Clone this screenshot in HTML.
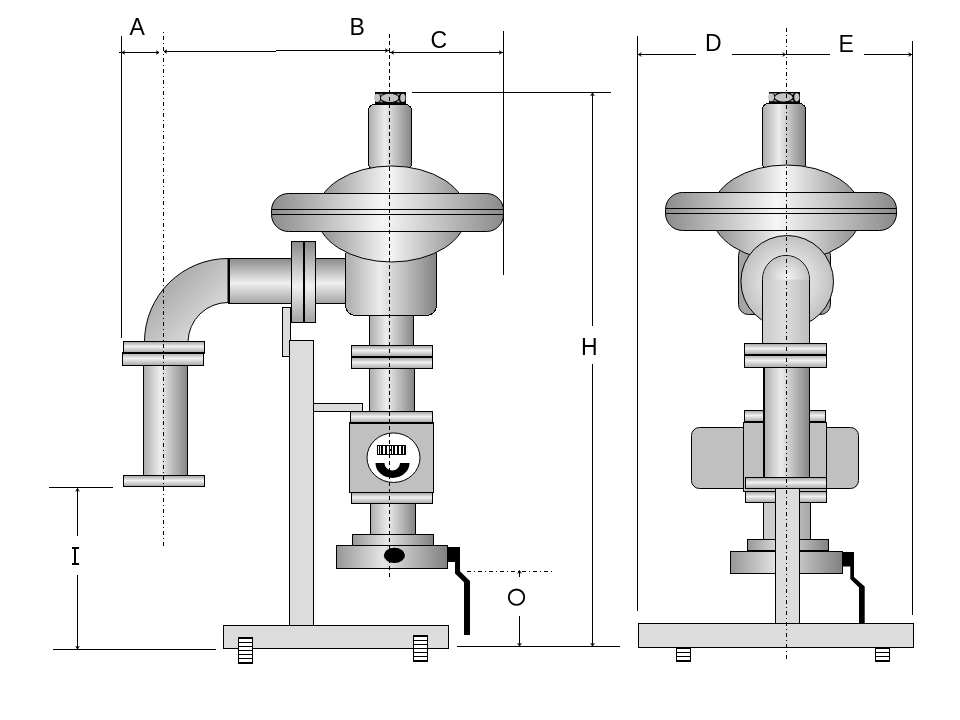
<!DOCTYPE html>
<html><head><meta charset="utf-8"><title>Dimensions</title>
<style>
html,body{margin:0;padding:0;background:#fff;}
body{width:960px;height:720px;overflow:hidden;font-family:"Liberation Sans",sans-serif;}
svg{display:block;}
text{font-family:"Liberation Sans",sans-serif;fill:#000;}
</style></head><body>
<svg width="960" height="720" viewBox="0 0 960 720" shape-rendering="crispEdges">
<defs>
<linearGradient id="cyl" x1="0" x2="1" y1="0" y2="0">
<stop offset="0" stop-color="#acacac"/><stop offset="0.38" stop-color="#ececec"/><stop offset="1" stop-color="#848484"/>
</linearGradient>
<linearGradient id="wide" x1="0" x2="1" y1="0" y2="0">
<stop offset="0" stop-color="#8c8c8c"/><stop offset="0.48" stop-color="#f6f6f6"/><stop offset="1" stop-color="#8a8a8a"/>
</linearGradient>
<linearGradient id="dark" x1="0" x2="1" y1="0" y2="0">
<stop offset="0" stop-color="#969696"/><stop offset="0.42" stop-color="#e6e6e6"/><stop offset="1" stop-color="#808080"/>
</linearGradient>
<linearGradient id="hpipe" x1="0" x2="0" y1="0" y2="1">
<stop offset="0" stop-color="#8a8a8a"/><stop offset="0.55" stop-color="#f0f0f0"/><stop offset="1" stop-color="#a2a2a2"/>
</linearGradient>
<linearGradient id="hfl" x1="0" x2="0" y1="0" y2="1">
<stop offset="0" stop-color="#a0a0a0"/><stop offset="0.45" stop-color="#f2f2f2"/><stop offset="1" stop-color="#a8a8a8"/>
</linearGradient>
<linearGradient id="elbow" gradientUnits="userSpaceOnUse" x1="158" y1="286" x2="203" y2="331">
<stop offset="0" stop-color="#a8a8a8"/><stop offset="1" stop-color="#dadada"/>
</linearGradient>
<radialGradient id="ring" cx="0.5" cy="0.5" r="0.5">
<stop offset="0" stop-color="#e8e8e8"/><stop offset="0.6" stop-color="#dadada"/><stop offset="1" stop-color="#c0c0c0"/>
</radialGradient>
<radialGradient id="cap" gradientUnits="userSpaceOnUse" cx="787" cy="278" r="26">
<stop offset="0" stop-color="#f4f4f4"/><stop offset="1" stop-color="#bcbcbc"/>
</radialGradient>
<linearGradient id="soft" x1="0" x2="1" y1="0" y2="0">
<stop offset="0" stop-color="#cacaca"/><stop offset="0.45" stop-color="#dedede"/><stop offset="1" stop-color="#bcbcbc"/>
</linearGradient>
<linearGradient id="half" x1="0" x2="1" y1="0" y2="0">
<stop offset="0" stop-color="#cccccc"/><stop offset="0.55" stop-color="#cccccc"/><stop offset="1" stop-color="#a6a6a6"/>
</linearGradient>
<filter id="gray" x="0" y="0" width="960" height="720" filterUnits="userSpaceOnUse" color-interpolation-filters="sRGB"><feColorMatrix type="saturate" values="0"/></filter>
</defs>
<rect width="960" height="720" fill="#fff"/>

<rect x="282.50" y="307.50" width="8.00" height="49.00" fill="#dcdcdc" stroke="#000" stroke-width="1" />
<rect x="289.50" y="340.50" width="24.00" height="285.00" fill="#dcdcdc" stroke="#000" stroke-width="1" />
<rect x="313.50" y="403.50" width="49.00" height="8.00" fill="#dcdcdc" stroke="#000" stroke-width="1" />
<rect x="223.50" y="625.50" width="225.00" height="23.00" fill="#dcdcdc" stroke="#000" stroke-width="1" />
<path d="M144.5,341.5 A83.5,83.5 0 0 1 228,258.5 L228,302.5 A40,40 0 0 0 188,341.5 Z" fill="url(#elbow)" stroke="#000" stroke-width="1" shape-rendering="auto"/>
<rect x="228.50" y="258.50" width="63.00" height="45.00" fill="url(#hpipe)" stroke="#000" stroke-width="1" />
<line x1="229.5" y1="259" x2="229.5" y2="303" stroke="#000" stroke-width="1" />
<rect x="315.50" y="258.50" width="30.00" height="45.00" fill="url(#hpipe)" stroke="#000" stroke-width="1" />
<rect x="291.50" y="241.50" width="12.00" height="81.00" fill="url(#hpipe)" stroke="#000" stroke-width="1" />
<rect x="304.50" y="241.50" width="11.00" height="81.00" fill="url(#hpipe)" stroke="#000" stroke-width="1" />
<line x1="304" y1="241" x2="304" y2="323" stroke="#000" stroke-width="1.5" />
<rect x="143.50" y="365.50" width="44.00" height="110.00" fill="url(#cyl)" stroke="#000" stroke-width="1" />
<rect x="123.50" y="341.50" width="81.00" height="11.00" fill="url(#hfl)" stroke="#000" stroke-width="1" />
<rect x="122.50" y="352.50" width="81.00" height="13.00" fill="url(#hfl)" stroke="#000" stroke-width="1" />
<line x1="122.5" y1="352.75" x2="205" y2="352.75" stroke="#000" stroke-width="1.5" />
<rect x="123.50" y="475.50" width="81.00" height="11.00" fill="url(#hfl)" stroke="#000" stroke-width="1" />
<rect x="368.50" y="104.50" width="43.00" height="65.00" fill="url(#cyl)" stroke="#000" stroke-width="1" rx="6" />
<rect x="375.00" y="92.00" width="31.00" height="12.70" fill="#000" stroke="none" stroke-width="0" />
<ellipse cx="389.7" cy="97.94999999999999" rx="8.8" ry="4.1" fill="#c4c4c4" shape-rendering="auto"/>
<ellipse cx="377.2" cy="97.94999999999999" rx="3" ry="4.1" fill="#c4c4c4" shape-rendering="auto"/>
<ellipse cx="402.8" cy="97.94999999999999" rx="2.6" ry="4.1" fill="#c4c4c4" shape-rendering="auto"/>
<path d="M379.09999999999997,93.74999999999999 h4 l-2,2.2 z M379.09999999999997,102.14999999999999 h4 l-2,-2.2 z" fill="#909090" shape-rendering="auto"/>
<path d="M396.3,93.74999999999999 h4 l-2,2.2 z M396.3,102.14999999999999 h4 l-2,-2.2 z" fill="#909090" shape-rendering="auto"/>
<rect x="345.50" y="245.50" width="91.00" height="70.00" fill="url(#cyl)" stroke="#000" stroke-width="1" rx="10" />
<ellipse cx="391.5" cy="214" rx="75" ry="48" fill="url(#wide)" stroke="#000" shape-rendering="auto"/>
<rect x="271.50" y="193.50" width="232.00" height="38.00" fill="url(#wide)" stroke="#000" stroke-width="1" rx="17" shape-rendering="auto"/>
<line x1="271.5" y1="209.5" x2="503" y2="209.5" stroke="#000" stroke-width="1" />
<line x1="271.5" y1="214.5" x2="503" y2="214.5" stroke="#000" stroke-width="1" />
<rect x="369.50" y="315.50" width="44.00" height="30.00" fill="url(#cyl)" stroke="#000" stroke-width="1" />
<rect x="351.50" y="345.50" width="81.00" height="11.00" fill="url(#hfl)" stroke="#000" stroke-width="1" />
<rect x="351.50" y="357.50" width="81.00" height="11.00" fill="url(#hfl)" stroke="#000" stroke-width="1" />
<line x1="351" y1="357" x2="433" y2="357" stroke="#000" stroke-width="2" />
<rect x="369.50" y="368.50" width="45.00" height="43.00" fill="url(#cyl)" stroke="#000" stroke-width="1" />
<rect x="350.50" y="411.50" width="82.00" height="11.00" fill="url(#hfl)" stroke="#000" stroke-width="1" />
<rect x="349.50" y="422.50" width="84.00" height="70.00" fill="#c0c0c0" stroke="#000" stroke-width="1" />
<line x1="350" y1="422.75" x2="433.5" y2="422.75" stroke="#000" stroke-width="1.5" />
<ellipse cx="393.5" cy="457.7" rx="26.5" ry="24.75" fill="#fff" stroke="#000" shape-rendering="auto"/>
<rect x="377.50" y="445.50" width="28.00" height="9.00" fill="#fff" stroke="#000" stroke-width="1" />
<rect x="381.00" y="446.00" width="2.00" height="8.00" fill="#000" stroke="none" stroke-width="0" />
<rect x="385.00" y="446.00" width="2.00" height="8.00" fill="#000" stroke="none" stroke-width="0" />
<rect x="393.00" y="446.00" width="2.00" height="8.00" fill="#000" stroke="none" stroke-width="0" />
<rect x="397.00" y="446.00" width="2.00" height="8.00" fill="#000" stroke="none" stroke-width="0" />
<rect x="401.00" y="446.00" width="2.00" height="8.00" fill="#000" stroke="none" stroke-width="0" />
<rect x="379.00" y="446.00" width="1.00" height="8.00" fill="#000" stroke="none" stroke-width="0" />
<rect x="404.00" y="446.00" width="1.00" height="8.00" fill="#000" stroke="none" stroke-width="0" />
<rect x="389.00" y="446.00" width="1.00" height="8.00" fill="#000" stroke="none" stroke-width="0" />
<rect x="391.00" y="446.00" width="1.00" height="8.00" fill="#000" stroke="none" stroke-width="0" />
<rect x="389.00" y="449.00" width="3.00" height="2.00" fill="#000" stroke="none" stroke-width="0" />
<path d="M375.5,463 L409.5,463 A17,15 0 0 1 375.5,463 Z M384.5,463 A7.75,7.5 0 0 0 400,463 Z" fill="#000" fill-rule="evenodd" shape-rendering="auto"/>
<rect x="351.50" y="492.50" width="81.00" height="11.00" fill="url(#hfl)" stroke="#000" stroke-width="1" />
<rect x="370.50" y="503.50" width="45.00" height="31.00" fill="url(#cyl)" stroke="#000" stroke-width="1" />
<rect x="352.50" y="534.50" width="81.00" height="11.00" fill="url(#dark)" stroke="#000" stroke-width="1" />
<rect x="336.50" y="545.50" width="111.00" height="23.00" fill="url(#dark)" stroke="#000" stroke-width="1" />
<ellipse cx="394.4" cy="555.4" rx="10.6" ry="7.6" fill="#000" shape-rendering="auto"/>
<polygon points="447.5,547 460,547 460,571.3 470,581 470,635 464,635 464,582.3 455,573.5 455,562 447.5,562" fill="#000" shape-rendering="auto"/>
<rect x="238.00" y="637.00" width="15.00" height="27.00" fill="#000" stroke="none" stroke-width="0" />
<rect x="239.00" y="639.00" width="13.00" height="3.00" fill="#fff" stroke="none" stroke-width="0" />
<rect x="239.00" y="643.00" width="13.00" height="3.00" fill="#fff" stroke="none" stroke-width="0" />
<rect x="239.00" y="647.00" width="13.00" height="3.00" fill="#fff" stroke="none" stroke-width="0" />
<rect x="239.00" y="651.00" width="13.00" height="3.00" fill="#fff" stroke="none" stroke-width="0" />
<rect x="239.00" y="655.00" width="13.00" height="3.00" fill="#fff" stroke="none" stroke-width="0" />
<rect x="239.00" y="659.00" width="13.00" height="3.00" fill="#fff" stroke="none" stroke-width="0" />
<rect x="413.00" y="635.00" width="15.00" height="27.00" fill="#000" stroke="none" stroke-width="0" />
<rect x="414.00" y="637.00" width="13.00" height="3.00" fill="#fff" stroke="none" stroke-width="0" />
<rect x="414.00" y="641.00" width="13.00" height="3.00" fill="#fff" stroke="none" stroke-width="0" />
<rect x="414.00" y="645.00" width="13.00" height="3.00" fill="#fff" stroke="none" stroke-width="0" />
<rect x="414.00" y="649.00" width="13.00" height="3.00" fill="#fff" stroke="none" stroke-width="0" />
<rect x="414.00" y="653.00" width="13.00" height="3.00" fill="#fff" stroke="none" stroke-width="0" />
<rect x="414.00" y="657.00" width="13.00" height="3.00" fill="#fff" stroke="none" stroke-width="0" />
<line x1="121.5" y1="36" x2="121.5" y2="338" stroke="#000" stroke-width="1" />
<line x1="163.5" y1="32" x2="163.5" y2="548" stroke="#000" stroke-width="1" stroke-dasharray="1 3 4 3"/>
<line x1="389.5" y1="34" x2="389.5" y2="580" stroke="#000" stroke-width="1" stroke-dasharray="4 3"/>
<line x1="503.5" y1="31" x2="503.5" y2="275" stroke="#000" stroke-width="1" />
<line x1="119" y1="52.5" x2="159" y2="52.5" stroke="#000" stroke-width="1" />
<line x1="164" y1="51.5" x2="276" y2="51.5" stroke="#000" stroke-width="1" />
<line x1="276" y1="50.5" x2="389" y2="50.5" stroke="#000" stroke-width="1" />
<line x1="389" y1="52.5" x2="503" y2="52.5" stroke="#000" stroke-width="1" />
<path d="M125,50.75 L122,52.5 L125,54.25" fill="none" stroke="#000" stroke-width="1" shape-rendering="auto"/>
<path d="M156,50.75 L159,52.5 L156,54.25" fill="none" stroke="#000" stroke-width="1" shape-rendering="auto"/>
<path d="M167,49.75 L164,51.5 L167,53.25" fill="none" stroke="#000" stroke-width="1" shape-rendering="auto"/>
<path d="M385,48.75 L388,50.5 L385,52.25" fill="none" stroke="#000" stroke-width="1" shape-rendering="auto"/>
<path d="M394,50.75 L391,52.5 L394,54.25" fill="none" stroke="#000" stroke-width="1" shape-rendering="auto"/>
<path d="M499,50.75 L502,52.5 L499,54.25" fill="none" stroke="#000" stroke-width="1" shape-rendering="auto"/>
<line x1="412" y1="92.5" x2="611" y2="92.5" stroke="#000" stroke-width="1" />
<line x1="592.5" y1="92" x2="592.5" y2="326" stroke="#000" stroke-width="1" />
<line x1="592.5" y1="364" x2="592.5" y2="646" stroke="#000" stroke-width="1" />
<path d="M590.75,96 L592.5,93 L594.25,96" fill="none" stroke="#000" stroke-width="1" shape-rendering="auto"/>
<path d="M590.75,643 L592.5,646 L594.25,643" fill="none" stroke="#000" stroke-width="1" shape-rendering="auto"/>
<line x1="457" y1="646.5" x2="619.5" y2="646.5" stroke="#000" stroke-width="1" />
<line x1="519.5" y1="616" x2="519.5" y2="646" stroke="#000" stroke-width="1" />
<path d="M517.75,643 L519.5,646 L521.25,643" fill="none" stroke="#000" stroke-width="1" shape-rendering="auto"/>
<line x1="467" y1="571.5" x2="553" y2="571.5" stroke="#000" stroke-width="1" stroke-dasharray="4 3 1 3"/>
<path d="M517.75,573.5 L519.5,570.5 L521.25,573.5" fill="none" stroke="#000" stroke-width="1" shape-rendering="auto"/>
<line x1="519.5" y1="571" x2="519.5" y2="577" stroke="#000" stroke-width="1" />
<line x1="49" y1="487.5" x2="113" y2="487.5" stroke="#000" stroke-width="1" />
<line x1="53" y1="649.5" x2="216" y2="649.5" stroke="#000" stroke-width="1" />
<line x1="77.5" y1="488" x2="77.5" y2="536" stroke="#000" stroke-width="1" />
<line x1="77.5" y1="575" x2="77.5" y2="649" stroke="#000" stroke-width="1" />
<path d="M75.75,491.5 L77.5,488.5 L79.25,491.5" fill="none" stroke="#000" stroke-width="1" shape-rendering="auto"/>
<path d="M75.75,646 L77.5,649 L79.25,646" fill="none" stroke="#000" stroke-width="1" shape-rendering="auto"/>
<rect x="73.60" y="547.00" width="2.80" height="18.00" fill="#000" stroke="none" stroke-width="0" />
<rect x="71.50" y="547.00" width="7.00" height="1.60" fill="#000" stroke="none" stroke-width="0" />
<rect x="71.50" y="563.40" width="7.00" height="1.60" fill="#000" stroke="none" stroke-width="0" />
<line x1="637.5" y1="36" x2="637.5" y2="611" stroke="#000" stroke-width="1" />
<line x1="912.5" y1="41" x2="912.5" y2="614.5" stroke="#000" stroke-width="1" />
<line x1="637.5" y1="54.5" x2="696" y2="54.5" stroke="#000" stroke-width="1" />
<line x1="732" y1="54.5" x2="829.5" y2="54.5" stroke="#000" stroke-width="1" />
<line x1="864" y1="54.5" x2="912" y2="54.5" stroke="#000" stroke-width="1" />
<path d="M641.5,52.75 L638.5,54.5 L641.5,56.25" fill="none" stroke="#000" stroke-width="1" shape-rendering="auto"/>
<path d="M782.5,52.75 L785.5,54.5 L782.5,56.25" fill="none" stroke="#000" stroke-width="1" shape-rendering="auto"/>
<path d="M908.5,52.75 L911.5,54.5 L908.5,56.25" fill="none" stroke="#000" stroke-width="1" shape-rendering="auto"/>
<rect x="691.50" y="427.50" width="167.00" height="61.00" fill="#c0c0c0" stroke="#000" stroke-width="1" rx="8" shape-rendering="auto"/>
<rect x="744.50" y="410.50" width="81.00" height="11.00" fill="url(#hfl)" stroke="#000" stroke-width="1" />
<rect x="743.50" y="422.50" width="83.00" height="69.00" fill="#c0c0c0" stroke="#000" stroke-width="1" />
<rect x="745.50" y="491.50" width="81.00" height="11.00" fill="url(#hfl)" stroke="#000" stroke-width="1" />
<rect x="763.50" y="502.50" width="47.00" height="37.00" fill="url(#half)" stroke="#000" stroke-width="1" />
<rect x="747.50" y="539.50" width="81.00" height="11.00" fill="url(#dark)" stroke="#000" stroke-width="1" />
<rect x="730.50" y="551.50" width="112.00" height="22.00" fill="url(#dark)" stroke="#000" stroke-width="1" />
<polygon points="843,552 854,552 854,577 864.7,586.5 864.7,623.5 859,623.5 859,587.5 850.3,579 850.3,566.5 843,566.5" fill="#000" shape-rendering="auto"/>
<rect x="762.50" y="103.50" width="43.00" height="66.00" fill="url(#cyl)" stroke="#000" stroke-width="1" rx="6" />
<rect x="769.00" y="92.00" width="31.00" height="11.40" fill="#000" stroke="none" stroke-width="0" />
<ellipse cx="783.7" cy="97.3" rx="8.8" ry="4.1" fill="#c4c4c4" shape-rendering="auto"/>
<ellipse cx="771.2" cy="97.3" rx="3" ry="4.1" fill="#c4c4c4" shape-rendering="auto"/>
<ellipse cx="796.8" cy="97.3" rx="2.6" ry="4.1" fill="#c4c4c4" shape-rendering="auto"/>
<path d="M773.1,93.1 h4 l-2,2.2 z M773.1,101.5 h4 l-2,-2.2 z" fill="#909090" shape-rendering="auto"/>
<path d="M790.3000000000001,93.1 h4 l-2,2.2 z M790.3000000000001,101.5 h4 l-2,-2.2 z" fill="#909090" shape-rendering="auto"/>
<rect x="738.50" y="245.50" width="92.00" height="69.00" fill="#a4a4a4" stroke="#000" stroke-width="1" rx="10" shape-rendering="auto"/>
<ellipse cx="786.5" cy="213" rx="75" ry="48" fill="url(#wide)" stroke="#000" shape-rendering="auto"/>
<rect x="665.50" y="192.50" width="231.00" height="38.00" fill="url(#wide)" stroke="#000" stroke-width="1" rx="17" shape-rendering="auto"/>
<line x1="665.5" y1="208.5" x2="896.5" y2="208.5" stroke="#000" stroke-width="1" />
<line x1="665.5" y1="213.5" x2="896.5" y2="213.5" stroke="#000" stroke-width="1" />
<ellipse cx="787.2" cy="281.5" rx="46.3" ry="46" fill="url(#ring)" stroke="#000" shape-rendering="auto"/>
<path d="M762.5,343.5 L762.5,279.5 A23.5,24 0 0 1 809.5,279.5 L809.5,343.5 Z" fill="url(#soft)" stroke="#000" shape-rendering="auto"/>
<path d="M763,279.5 A23,23.5 0 0 1 809,279.5 Z" fill="url(#cap)" shape-rendering="auto"/>
<rect x="744.50" y="343.50" width="82.00" height="11.00" fill="url(#hfl)" stroke="#000" stroke-width="1" />
<rect x="744.50" y="354.50" width="82.00" height="13.00" fill="url(#hfl)" stroke="#000" stroke-width="1" />
<line x1="744" y1="354.75" x2="827" y2="354.75" stroke="#000" stroke-width="1.5" />
<rect x="763.50" y="367.50" width="46.00" height="110.00" fill="url(#cyl)" stroke="#000" stroke-width="1" />
<line x1="764.5" y1="368" x2="764.5" y2="477" stroke="#000" stroke-width="1" />
<rect x="745.50" y="477.50" width="81.00" height="11.00" fill="url(#hfl)" stroke="#000" stroke-width="1" />
<rect x="775.50" y="488.50" width="24.00" height="135.00" fill="#dcdcdc" stroke="#000" stroke-width="1" />
<rect x="638.50" y="623.50" width="275.00" height="24.00" fill="#dcdcdc" stroke="#000" stroke-width="1" />
<rect x="676.00" y="647.00" width="15.00" height="15.00" fill="#000" stroke="none" stroke-width="0" />
<rect x="677.00" y="649.00" width="13.00" height="3.00" fill="#fff" stroke="none" stroke-width="0" />
<rect x="677.00" y="653.00" width="13.00" height="3.00" fill="#fff" stroke="none" stroke-width="0" />
<rect x="677.00" y="657.00" width="13.00" height="3.00" fill="#fff" stroke="none" stroke-width="0" />
<rect x="875.00" y="647.00" width="15.00" height="15.00" fill="#000" stroke="none" stroke-width="0" />
<rect x="876.00" y="649.00" width="13.00" height="3.00" fill="#fff" stroke="none" stroke-width="0" />
<rect x="876.00" y="653.00" width="13.00" height="3.00" fill="#fff" stroke="none" stroke-width="0" />
<rect x="876.00" y="657.00" width="13.00" height="3.00" fill="#fff" stroke="none" stroke-width="0" />
<line x1="786.5" y1="28" x2="786.5" y2="661" stroke="#000" stroke-width="1" stroke-dasharray="4 3 1 3"/>
<g filter="url(#gray)">
<text x="129.5" y="34.5" font-size="23" >A</text>
<text x="349.5" y="34.5" font-size="23" >B</text>
<text x="430.5" y="47.5" font-size="23" >C</text>
<text x="705" y="51" font-size="23" >D</text>
<text x="838.5" y="52" font-size="23" >E</text>
<text x="581" y="355" font-size="23" >H</text>
</g>
<circle cx="516.5" cy="597.2" r="7.7" fill="none" stroke="#000" stroke-width="1.9" shape-rendering="auto"/>
</svg></body></html>
